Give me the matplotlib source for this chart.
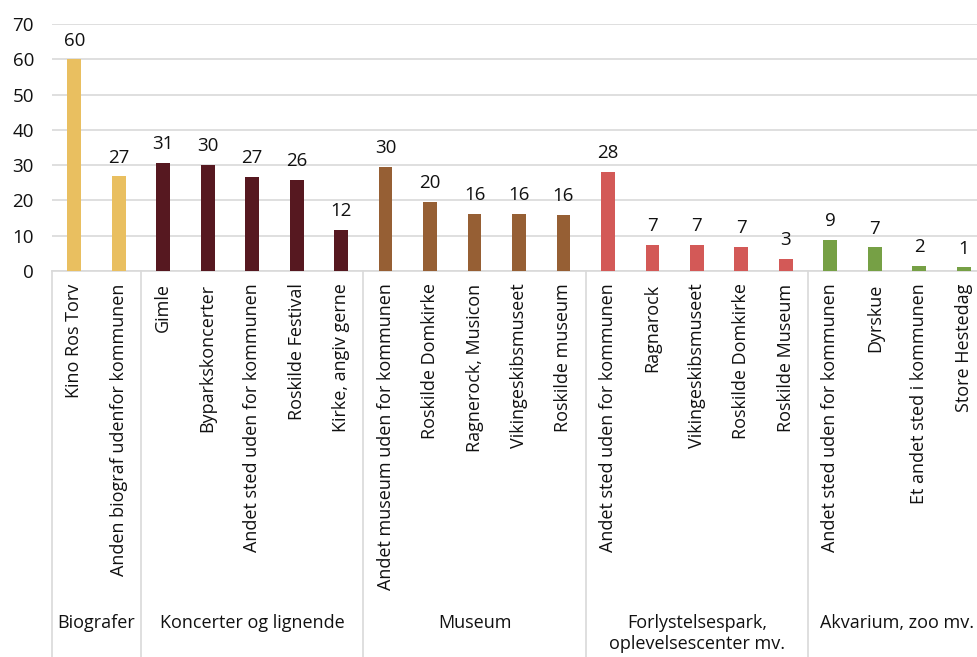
import matplotlib
matplotlib.use("Agg")
import matplotlib.pyplot as plt

# data
grupper = ["Biografer", "Koncerter og lignende", "Museum",
           "Forlystelsespark,\noplevelsescenter mv.", "Akvarium, zoo mv."]
steder = [
    ["Kino Ros Torv", "Anden biograf udenfor kommunen"],
    ["Gimle", "Byparkskoncerter", "Andet sted uden for kommunen",
     "Roskilde Festival", "Kirke, angiv gerne"],
    ["Andet museum uden for kommunen", "Roskilde Domkirke",
     "Ragnerock, Musicon", "Vikingeskibsmuseet", "Roskilde museum"],
    ["Andet sted uden for kommunen", "Ragnarock", "Vikingeskibsmuseet",
     "Roskilde Domkirke", "Roskilde Museum"],
    ["Andet sted uden for kommunen", "Dyrskue", "Et andet sted i kommunen",
     "Store Hestedag"],
]
vaerdier = [
    [60.0, 26.8],
    [30.6, 30.1, 26.6, 25.8, 11.6],
    [29.6, 19.6, 16.2, 16.1, 16.0],
    [28.1, 7.4, 7.4, 6.8, 3.4],
    [8.9, 6.7, 1.5, 1.0],
]
farver = ["#E9BF60", "#561820", "#965F34", "#D35957", "#76A045"]

plt.rcParams["font.family"] = ["Open Sans", "DejaVu Sans"]

fig = plt.figure(figsize=(9.78, 6.57), dpi=100)
ax = fig.add_axes([52 / 978, 1 - 271 / 657, 934 / 978, 247 / 657])

labels = []
pos = 0
kanter = [-0.5]
midter = []
for g, (navne, vals) in enumerate(zip(steder, vaerdier)):
    xs = list(range(pos, pos + len(vals)))
    ax.bar(xs, vals, width=0.31, color=farver[g], zorder=3)
    for x, v in zip(xs, vals):
        ax.annotate("%.0f" % v, (x, v), xytext=(0, 7), textcoords="offset points",
                    ha="center", va="bottom", fontsize=13.5, color="#111111")
    labels += navne
    midter.append(pos + (len(vals) - 1) / 2)
    pos += len(vals)
    kanter.append(pos - 0.5)

ax.set_xlim(-0.5, pos - 0.5)
ax.set_ylim(0, 70)
ax.set_yticks(range(0, 71, 10))
ax.yaxis.grid(True, color="#D9D9D9", linewidth=1.2, zorder=0)
for s in ["top", "right", "left"]:
    ax.spines[s].set_visible(False)
ax.spines["bottom"].set_color("#D9D9D9")
ax.spines["bottom"].set_linewidth(1.2)
ax.tick_params(axis="y", length=0, pad=13, labelsize=13.5, labelcolor="#111111")
ax.set_xticks(range(pos))
ax.set_xticklabels(labels, rotation=90, fontsize=13, color="#111111")
ax.tick_params(axis="x", length=0, pad=9)

tr = ax.get_xaxis_transform()
for k in kanter[:-1]:
    ax.plot([k, k], [0, -1.6], transform=tr, color="#D9D9D9", linewidth=1.2,
            clip_on=False)
for m, g in zip(midter, grupper):
    ax.text(m, -1.39, g, transform=tr, ha="center", va="top", fontsize=13,
            color="#111111", linespacing=1.2)

fig.savefig("out.png", dpi=100)
